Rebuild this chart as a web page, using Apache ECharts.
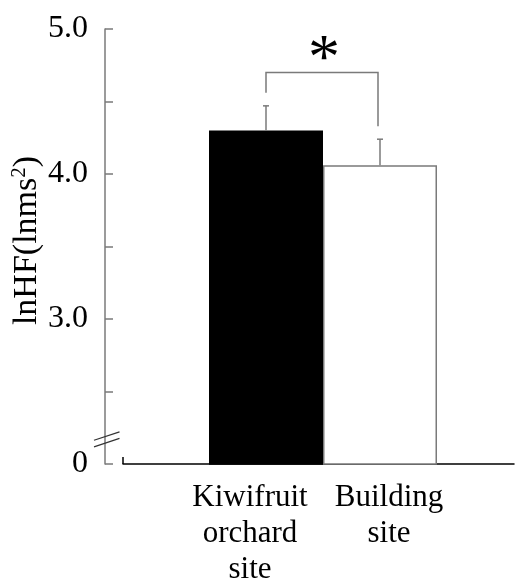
<!DOCTYPE html>
<html><head><meta charset="utf-8">
<script src="https://cdn.jsdelivr.net/npm/echarts@6/dist/echarts.min.js"></script>
<style>html,body{margin:0;padding:0;background:#fff}#c{width:515px;height:578px}</style>
</head><body><div id="c"></div>
<script>
// ---- data ----
const categories = ['Kiwifruit\norchard\nsite', 'Building\nsite'];
const means = [4.30, 4.06];
const errors = [0.17, 0.18];
const barColors = ['#000000', '#ffffff'];
const bracketLevels = [4.56, 4.33, 4.70]; // left leg bottom, right leg bottom, bracket top
const starLevel = 4.78;
const tickValues = [2, 3, 4, 5];
const tickLabels = ['0', '3.0', '4.0', '5.0'];
const breakLevel = 2.17;

// ---- layout ----
const FONT = '"Liberation Serif", "Times New Roman", serif';
const GRID_LEFT = 209, GRID_RIGHT = 78, GRID_TOP = 29, GRID_BOTTOM = 114;
const AXIS_OFFSET = 104;
const GRAY = '#7a7a7a';

const chart = echarts.init(document.getElementById('c'), null, {renderer: 'canvas'});

const option = {
  backgroundColor: '#fff',
  animation: false,
  grid: [
    {left: GRID_LEFT, right: GRID_RIGHT, top: GRID_TOP, bottom: GRID_BOTTOM, containLabel: false, outerBoundsMode: 'none'},
    {left: 123, right: 1, top: GRID_TOP, bottom: GRID_BOTTOM, containLabel: false, outerBoundsMode: 'none'}
  ],
  xAxis: [
    {
      type: 'category', gridIndex: 0, data: categories,
      axisLine: {show: false}, axisTick: {show: false},
      axisLabel: {
        margin: 16, interval: 0,
        formatter: (v, i) => v.split('\n').map(l => '{' + (i === 0 ? 'k' : 'b') + '|' + l + '}').join('\n'),
        rich: {
          k: {fontFamily: FONT, fontSize: 31, lineHeight: 36, color: '#000', padding: [0, 32, 0, 0]},
          b: {fontFamily: FONT, fontSize: 31, lineHeight: 36, color: '#000', padding: [0, 0, 0, 18]}
        }
      }
    },
    {
      type: 'value', gridIndex: 1, min: 0, max: 1,
      axisLine: {show: true, onZero: false, lineStyle: {color: '#000', width: 1.5}},
      axisTick: {show: true, inside: true, length: 7, customValues: [0], lineStyle: {color: '#000', width: 1.5}},
      axisLabel: {show: false}, splitLine: {show: false}
    }
  ],
  yAxis: [
    {
      type: 'value', gridIndex: 0, min: 2, max: 5, interval: 0.5, offset: AXIS_OFFSET,
      axisLine: {show: true, lineStyle: {color: GRAY, width: 1.5}},
      axisTick: {show: true, inside: true, length: 8, lineStyle: {color: GRAY, width: 1.5}},
      splitLine: {show: false},
      axisLabel: {
        margin: 17, fontFamily: FONT, fontSize: 32, color: '#000',
        formatter: v => { const k = tickValues.indexOf(v); return k >= 0 ? tickLabels[k] : ''; }
      },
      name: '{a|lnHF(lnms}{s|2}{a|)}',
      nameLocation: 'middle', nameRotate: 90, nameGap: 55,
      nameTextStyle: {
        padding: [0, 0, 0, 12],
        rich: {
          a: {fontFamily: FONT, fontSize: 34, color: '#000', lineHeight: 36},
          s: {fontFamily: FONT, fontSize: 21, color: '#000', verticalAlign: 'top', lineHeight: 36}
        }
      }
    },
    {type: 'value', gridIndex: 1, show: false, min: 0, max: 1}
  ],
  series: [
    {
      type: 'bar', xAxisIndex: 0, yAxisIndex: 0, barWidth: '100%', barGap: '0%',
      data: means.map((m, i) => ({
        value: m,
        itemStyle: {color: barColors[i], borderColor: i === 0 ? '#000' : GRAY, borderWidth: 1.5}
      }))
    },
    {
      type: 'custom', xAxisIndex: 0, yAxisIndex: 0, z: 5,
      data: means.map((m, i) => [i, m, errors[i]]),
      renderItem: (params, api) => {
        const i = api.value(0), m = api.value(1), e = api.value(2);
        const p0 = api.coord([i, m]), p1 = api.coord([i, m + e]);
        const st = {stroke: GRAY, lineWidth: 1.5};
        return {type: 'group', children: [
          {type: 'line', shape: {x1: p0[0], y1: p0[1], x2: p1[0], y2: p1[1]}, style: st},
          {type: 'line', shape: {x1: p1[0] - 3, y1: p1[1], x2: p1[0] + 3, y2: p1[1]}, style: st}
        ]};
      }
    },
    {
      type: 'custom', xAxisIndex: 0, yAxisIndex: 0, z: 6, clip: false,
      data: [[0, 1, bracketLevels[0], bracketLevels[1], bracketLevels[2], starLevel]],
      renderItem: (params, api) => {
        const a = api.value(0), b = api.value(1);
        const l0 = api.coord([a, api.value(2)]);
        const r0 = api.coord([b, api.value(3)]);
        const lt = api.coord([a, api.value(4)]);
        const rt = api.coord([b, api.value(4)]);
        const st = api.coord([a, api.value(5)]);
        return {type: 'group', children: [
          {type: 'polyline', shape: {points: [l0, lt, [rt[0] - 2, rt[1]], [r0[0] - 2, r0[1]]]},
            style: {stroke: GRAY, lineWidth: 1.5, fill: null}},
          {type: 'text', style: {text: '*', x: (lt[0] + rt[0]) / 2 + 1, y: st[1], align: 'center',
            verticalAlign: 'middle', fontSize: 64, fontFamily: FONT, fill: '#000'}}
        ]};
      }
    }
  ]
};
chart.setOption(option);

// axis-break symbol
const by = chart.convertToPixel({yAxisIndex: 0}, breakLevel);
const ax = GRID_LEFT - AXIS_OFFSET + 1.5;
const slash = d => ({type: 'line', shape: {x1: ax - 12.5, y1: by + d + 4.2, x2: ax + 13, y2: by + d - 4.2},
  style: {stroke: '#333', lineWidth: 1.3}, z: 100});
chart.setOption({graphic: [slash(-3.3), slash(3.3)]});
</script></body></html>
